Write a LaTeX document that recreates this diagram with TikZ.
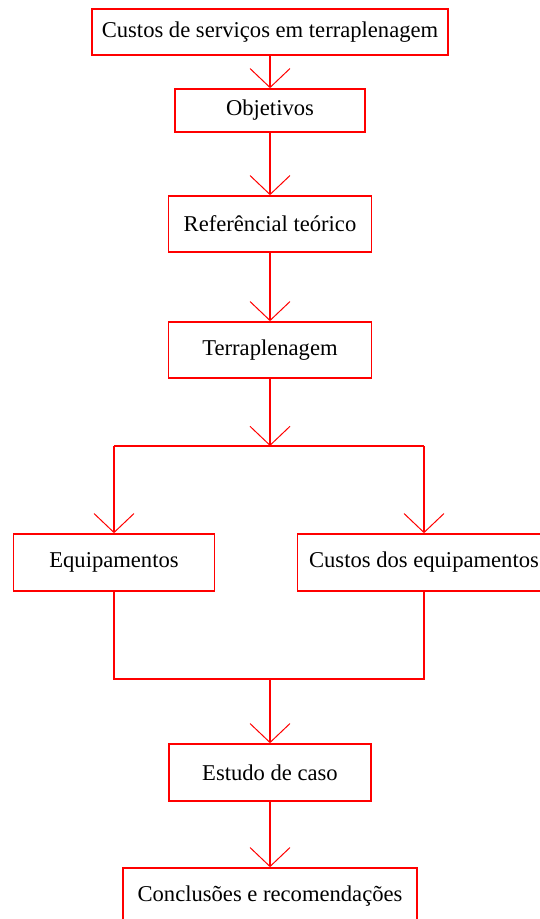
\documentclass[tikz,border=0pt]{standalone}
\usepackage{fontspec}
\setmainfont{Liberation Serif}
\usetikzlibrary{arrows.meta}
\begin{document}
\begin{tikzpicture}[x=1pt,y=-1pt,
  box/.style={draw=red, line width=1.6pt, rectangle, inner sep=0pt, font=\fontsize{22.6}{26}\selectfont, text=black},
  conn/.style={draw=red, line width=1.3pt},
  arr/.style={conn, -{Straight Barb[length=19pt,width=40pt,line width=1pt]}}]
\useasboundingbox (0,0) rectangle (540,919);
\node[box, minimum width=356pt, minimum height=46pt] (n1) at (270,32) {Custos de serviços em terraplenagem};
\node[box, minimum width=190pt, minimum height=43pt] (n2) at (270,110.5) {Objetivos};
\node[box, minimum width=203pt, minimum height=56pt] (n3) at (270,224) {Referêncial teórico};
\node[box, minimum width=203pt, minimum height=56pt] (n4) at (270,350) {Terraplenagem};
\coordinate (j) at (270,446);
\node[box, minimum width=201pt, minimum height=57pt] (n5) at (114,562.5) {Equipamentos};
\node[box, minimum width=253pt, minimum height=57pt] (n6) at (424,562.5) {Custos dos equipamentos};
\coordinate (m) at (270,679);
\node[box, minimum width=202pt, minimum height=57pt] (n7) at (270,772.5) {Estudo de caso};
\node[box, minimum width=294pt, minimum height=57pt] (n8) at (270,896.5) {Conclusões e recomendações};
\draw[arr] (n1.south) -- (n2.north);
\draw[arr] (n2.south) -- (n3.north);
\draw[arr] (n3.south) -- (n4.north);
\draw[arr] (n4.south) -- (j);
\draw[conn] (n5 |- j) -- (n6 |- j);
\draw[arr] (n5 |- j) -- (n5.north);
\draw[arr] (n6 |- j) -- (n6.north);
\draw[conn] (n5.south) |- (m) -| (n6.south);
\draw[arr] (m) -- (n7.north);
\draw[arr] (n7.south) -- (n8.north);
\end{tikzpicture}
\end{document}
